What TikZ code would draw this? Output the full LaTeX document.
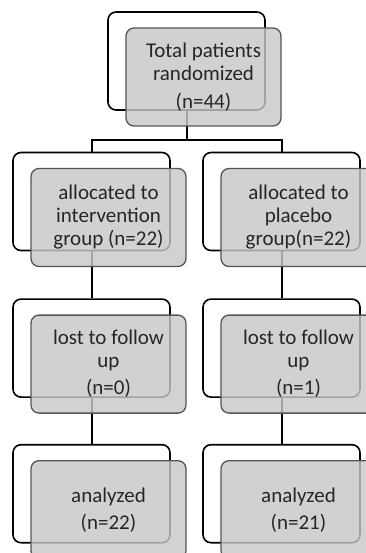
\documentclass[tikz,border=0pt]{standalone}
\usepackage{fontspec}
\setmainfont{Carlito}
\usepackage{xcolor}
\usepackage{tikz}
\usetikzlibrary{positioning,calc}
\definecolor{boxgrey}{RGB}{200,200,202}
\definecolor{boxedge}{HTML}{555555}
\definecolor{boxtext}{HTML}{262626}

\begin{document}
\begin{tikzpicture}[
  back/.style={draw=black,line width=1.6pt,fill=white,rounded corners=8pt,minimum width=157pt,minimum height=98pt,inner sep=0pt},
  front/.style={draw=boxedge,line width=1.3pt,fill=boxgrey,fill opacity=.82,text opacity=1,rounded corners=8pt,minimum width=155pt,minimum height=98pt,align=center,text=boxtext,font=\fontsize{21}{23}\selectfont},
  link/.style={black,line width=2pt}
]
\useasboundingbox (0,0) rectangle (365pt,-553pt);
% outline boxes behind
\node[back] (rand) at (186.5pt,-61pt) {};
\node[back] (intv) at (91.5pt,-201.5pt) {};
\node[back] (plac) at (281.5pt,-201.5pt) {};
\node[back,below=47pt of intv] (lostI) {};
\node[back,below=47pt of plac] (lostP) {};
\node[back,below=46pt of lostI] (anaI) {};
\node[back,below=46pt of lostP] (anaP) {};
% connectors
\draw[link] (rand.south) -- ++(0,-29pt) -| (intv.north);
\draw[link] (rand.south) ++(0,-29pt) -| (plac.north);
\foreach \a/\b in {intv/lostI,lostI/anaI,plac/lostP,lostP/anaP} \draw[link] (\a.south) -- (\b.north);
% grey boxes on top
\node[front] (rand-t) at ([shift={(17pt,-16pt)}]rand.center) {Total patients\\randomized\\[5pt](n=44)};
\node[front] (intv-t) at ([shift={(17pt,-16pt)}]intv.center) {allocated to\\intervention\\group\ (n=22)};
\node[front] (plac-t) at ([shift={(17pt,-16pt)}]plac.center) {allocated to\\placebo\\group(n=22)};
\node[front] (lostI-t) at ([shift={(17pt,-16pt)}]lostI.center) {lost to follow\\up\\[4pt](n=0)};
\node[front] (lostP-t) at ([shift={(17pt,-16pt)}]lostP.center) {lost to follow\\up\\[4pt](n=1)};
\node[front] (anaI-t) at ([shift={(17pt,-16pt)}]anaI.center) {analyzed\\[4pt](n=22)};
\node[front] (anaP-t) at ([shift={(17pt,-16pt)}]anaP.center) {analyzed\\[4pt](n=21)};
\end{tikzpicture}
\end{document}
